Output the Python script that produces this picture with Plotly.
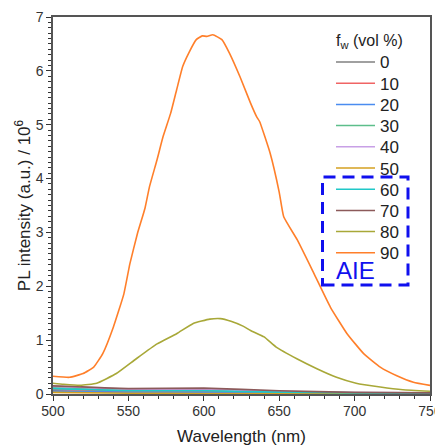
import plotly.graph_objects as go

# ---- data ----
fw_labels = ["0", "10", "20", "30", "40", "50", "60", "70", "80", "90"]
colors = ["#808080", "#F06464", "#4A8CF0", "#5DBE8B", "#C8A0E6",
          "#D4A020", "#20C8C8", "#8C5A5A", "#A8A838", "#FF7F2A"]

wl_low = [500, 550, 600, 650, 700, 750]
int_0 = [0.06, 0.04, 0.04, 0.02, 0.01, 0.01]
int_10 = [0.09, 0.05, 0.05, 0.03, 0.015, 0.01]
int_20 = [0.05, 0.03, 0.03, 0.015, 0.01, 0.005]
int_30 = [0.12, 0.07, 0.07, 0.04, 0.02, 0.015]
int_40 = [0.14, 0.09, 0.09, 0.05, 0.025, 0.02]
int_50 = [0.03, 0.015, 0.01, 0.005, 0.003, 0.002]
int_60 = [0.10, 0.06, 0.06, 0.035, 0.02, 0.015]
int_70 = [0.15, 0.10, 0.11, 0.06, 0.03, 0.02]

wl_80 = [500, 507, 518, 529, 542, 555, 569, 582, 593, 604, 611, 618, 626, 631,
         640, 648, 662, 675, 688, 701, 717, 732, 750]
int_80 = [0.20, 0.18, 0.16, 0.20, 0.38, 0.65, 0.93, 1.12, 1.31, 1.39, 1.40, 1.35,
          1.26, 1.18, 1.06, 0.87, 0.65, 0.47, 0.31, 0.20, 0.13, 0.08, 0.05]

wl_90 = [500, 511, 520, 527, 533, 540, 547, 551, 556, 561, 564, 569, 573, 578,
         582, 586, 590, 595, 599, 602, 606, 612, 617, 624, 631, 635, 637, 644,
         650, 653, 662, 673, 684, 695, 706, 717, 728, 739, 750]
int_90 = [0.33, 0.31, 0.38, 0.50, 0.75, 1.24, 1.86, 2.42, 2.98, 3.45, 3.85, 4.35,
          4.78, 5.21, 5.65, 6.08, 6.33, 6.58, 6.65, 6.64, 6.67, 6.58, 6.33, 5.89,
          5.40, 5.15, 5.06, 4.47, 3.75, 3.29, 2.86, 2.24, 1.61, 1.12, 0.75, 0.50,
          0.34, 0.22, 0.16]

series_x = [wl_low] * 8 + [wl_80, wl_90]
series_y = [int_0, int_10, int_20, int_30, int_40, int_50, int_60, int_70, int_80, int_90]

FONT = "Arial, Liberation Sans, sans-serif"

# The page body has an 8px margin, so the figure is drawn offset by 8px.
OFF = 8
FIG_W, FIG_H = 443 - OFF, 448 - OFF
# plot-area frame in page pixels
L, R, T, B = 53, 430, 17, 394
W, H = R - L, B - T


def px(x):
    return (x - L) / W


def py(y):
    return (B - y) / H


fig = go.Figure()
for lab, col, xs, ys in zip(fw_labels, colors, series_x, series_y):
    fig.add_trace(go.Scatter(x=xs, y=ys, mode="lines", name=lab, showlegend=False,
                             line=dict(color=col, width=1.6, shape="spline", smoothing=0.4)))

axis_common = dict(showline=True, linecolor="#555555", linewidth=1.5, mirror=True,
                   ticks="outside", tickcolor="#333333", ticklen=5, tickwidth=1.2,
                   showgrid=False, zeroline=False, automargin=False,
                   tickfont=dict(family=FONT, size=14, color="#333333"))

fig.update_layout(
    width=FIG_W, height=FIG_H,
    margin=dict(l=L - OFF, r=FIG_W - (R - OFF), t=T - OFF, b=FIG_H - (B - OFF)),
    paper_bgcolor="white", plot_bgcolor="white",
    font=dict(family=FONT, color="#222222"),
    xaxis=dict(range=[500, 750], dtick=50, tick0=500, ticklabelstandoff=-2,
               minor=dict(dtick=10, ticks="outside", ticklen=3, tickcolor="#333333"),
               title=dict(text="Wavelength (nm)", font=dict(family=FONT, size=17, color="#222222"),
                          standoff=13),
               **axis_common),
    yaxis=dict(range=[0, 7], dtick=1, tick0=0, ticklabelstandoff=0,
               minor=dict(dtick=0.1, ticks="outside", ticklen=3, tickcolor="#333333"),
               title=dict(text="PL intensity (a.u.) / 10<sup>6</sup>",
                          font=dict(family=FONT, size=17, color="#222222"), standoff=1),
               **axis_common),
    showlegend=False,
)

# manual legend
fig.add_annotation(xref="paper", yref="paper", x=px(369), y=py(41),
                   xanchor="center", yanchor="middle",
                   text="f<sub>w</sub> (vol %)", showarrow=False,
                   font=dict(family=FONT, size=16, color="#222222"))
for i, (lab, col) in enumerate(zip(fw_labels, colors)):
    yy = 62 + i * 21.2
    fig.add_shape(type="line", xref="paper", yref="paper",
                  x0=px(336), x1=px(375), y0=py(yy), y1=py(yy),
                  line=dict(color=col, width=1.5))
    fig.add_annotation(xref="paper", yref="paper", x=px(378), y=py(yy + 1),
                       xanchor="left", yanchor="middle", text=lab, showarrow=False,
                       font=dict(family=FONT, size=17, color="#222222"))

# AIE dashed box and label
fig.add_shape(type="rect", xref="paper", yref="paper",
              x0=px(322.5), x1=px(408), y0=py(285), y1=py(177),
              line=dict(color="#1010EE", width=3, dash="12px,7px"), layer="above")
fig.add_annotation(xref="paper", yref="paper", x=px(355), y=py(270),
                   xanchor="center", yanchor="middle",
                   text="AIE", showarrow=False,
                   font=dict(family=FONT, size=24, color="#1010EE"))

fig.write_html("out.html")
